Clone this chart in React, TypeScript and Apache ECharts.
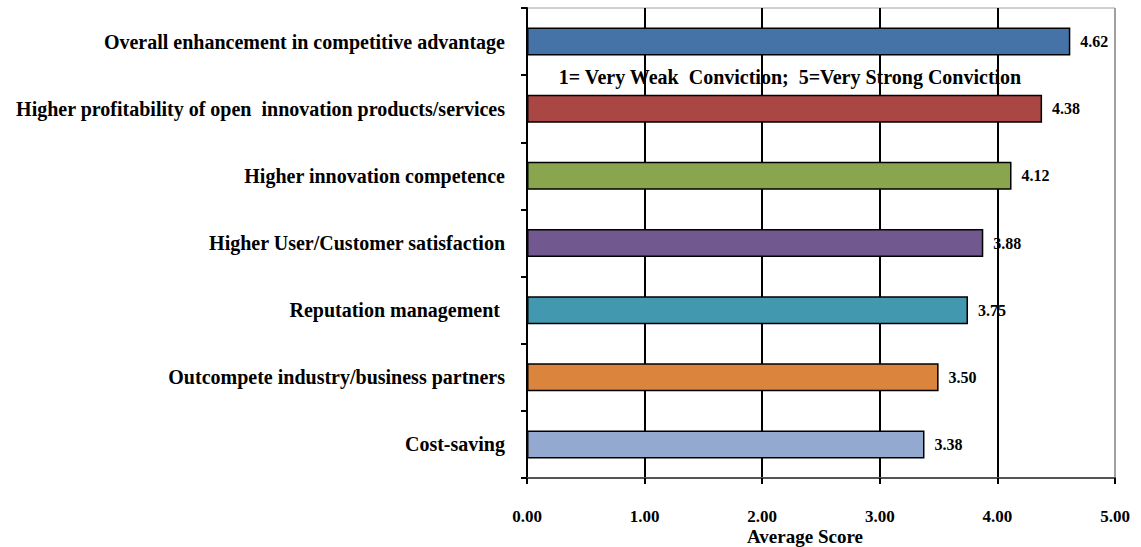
import React, { useEffect, useRef } from "react";
import * as echarts from "echarts";

const categories = [
  "Overall enhancement in competitive advantage",
  "Higher profitability of open  innovation products/services",
  "Higher innovation competence",
  "Higher User/Customer satisfaction",
  "Reputation management ",
  "Outcompete industry/business partners",
  "Cost-saving",
];
const values = [4.62, 4.38, 4.12, 3.88, 3.75, 3.5, 3.38];
const barColors = ["#4572A7", "#AA4643", "#89A54E", "#71588F", "#4198AF", "#DB843D", "#93A9CF"];
const xTicks = [0, 1, 2, 3, 4, 5];
const note = "1= Very Weak  Conviction;  5=Very Strong Conviction";
const axisTitle = "Average Score";

const FONT = "'Liberation Serif', 'Times New Roman', serif";

export default function App() {
  const ref = useRef<HTMLDivElement>(null);
  useEffect(() => {
    if (!ref.current) return;
    const chart = echarts.init(ref.current, undefined, { renderer: "svg" });
    chart.setOption({
      animation: false,
      backgroundColor: "#ffffff",
      grid: {
        left: 527,
        right: 26,
        top: 8,
        bottom: 69,
        show: true,
        borderColor: "#a0a0a0",
        borderWidth: 1,
        containLabel: false,
        outerBoundsMode: "none",
      },
      xAxis: {
        type: "value",
        min: xTicks[0],
        max: xTicks[xTicks.length - 1],
        interval: 1,
        axisLine: { show: true, lineStyle: { color: "#555", width: 2 } },
        axisTick: { show: true, length: 6, lineStyle: { color: "#000", width: 2 } },
        axisLabel: {
          margin: 30,
          fontFamily: FONT,
          fontWeight: "bold",
          fontSize: 17,
          color: "#000",
          formatter: (v: number) => v.toFixed(2),
        },
        splitLine: {
          show: true,
          lineStyle: { color: ["#000", "#000", "#000", "#000", "#000", "#a0a0a0"], width: 2 },
        },
      },
      yAxis: {
        type: "category",
        data: categories,
        inverse: true,
        axisLine: { show: true, lineStyle: { color: "#000", width: 2 } },
        axisTick: { show: true, length: 6, lineStyle: { color: "#000", width: 2 } },
        axisLabel: {
          margin: 22,
          fontFamily: FONT,
          fontWeight: "bold",
          fontSize: 20,
          color: "#000",
        },
        splitLine: { show: false },
      },
      series: [
        {
          type: "bar",
          data: values.map((v, i) => ({
            value: v,
            itemStyle: { color: barColors[i], borderColor: "#000", borderWidth: 1.5 },
          })),
          barWidth: 28,
          label: {
            show: true,
            position: "right",
            distance: 10,
            fontFamily: FONT,
            fontWeight: "bold",
            fontSize: 16,
            color: "#000",
            formatter: (p: any) => Number(p.value).toFixed(2),
          },
        },
      ],
      graphic: [
        {
          type: "text",
          x: 790,
          y: 77,
          style: {
            text: note,
            fontFamily: FONT,
            fontWeight: "bold",
            fontSize: 20,
            fill: "#000",
            textAlign: "center",
            textVerticalAlign: "middle",
          },
        },
        {
          type: "text",
          x: 805,
          y: 536,
          style: {
            text: axisTitle,
            fontFamily: FONT,
            fontWeight: "bold",
            fontSize: 19,
            fill: "#000",
            textAlign: "center",
            textVerticalAlign: "middle",
          },
        },
      ],
    });
    return () => chart.dispose();
  }, []);
  return (
    <div
      ref={ref}
      style={{ position: "fixed", left: 0, top: 0, width: 1141, height: 547 }}
    />
  );
}
